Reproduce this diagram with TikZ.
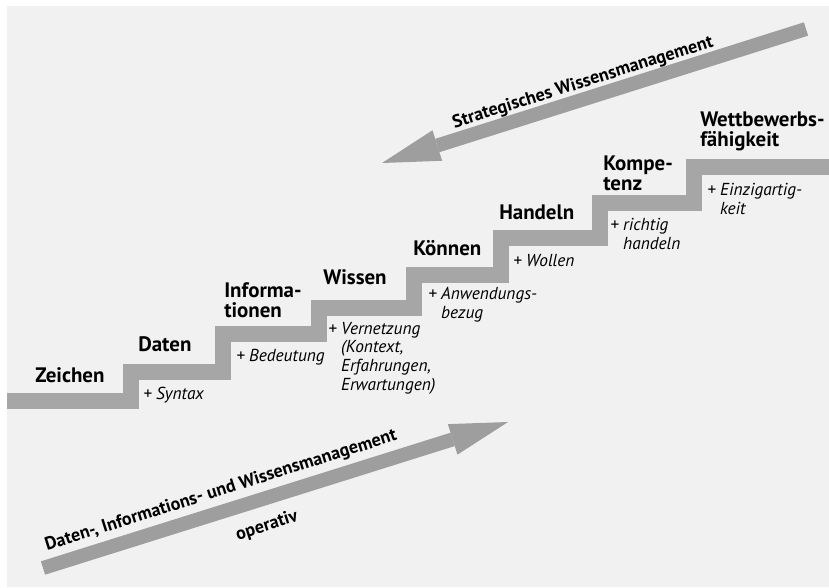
\documentclass[tikz,border=0pt]{standalone}
\usepackage{fontspec}
\setmainfont{PT Sans}
\usetikzlibrary{arrows.meta}

\definecolor{panelgray}{HTML}{F1F1F1}
\definecolor{stairgray}{HTML}{A6A6A6}
\definecolor{arrowgray}{HTML}{9E9E9E}

\tikzset{
	stair/.style={draw=stairgray, line width=12pt, line join=miter, line cap=butt},
	steplabel/.style={font=\fontsize{15.7}{15}\selectfont\bfseries, inner sep=0pt, anchor=base west, align=left},
	plusnote/.style={font=\fontsize{13}{14}\selectfont\itshape, inner sep=0pt, anchor=base west, align=left},
	bigarrow/.style={draw=arrowgray, line width=10.5pt, -{Triangle[length=43.5pt 0, width=24pt 0, line width=0pt 0]}},
	arrowtext/.style={font=\fontsize{13.6}{13.6}\selectfont\bfseries, inner sep=0pt, rotate=17.5},
}

\begin{document}
\begin{tikzpicture}[x=0.75pt,y=-0.75pt]
		
		\useasboundingbox (0,0) rectangle (829,587);
		\fill[white] (0,0) rectangle (829,587);
		\fill[panelgray] (7,6) rectangle (829,587);
		
		%%% stairs
		\draw[stair] (7,401) -- (131,401) -- (131,372) -- (223,372) -- (223,334) -- (319,334)
			-- (319,308) -- (414,308) -- (414,275) -- (501,275) -- (501,238) -- (600,238)
			-- (600,203) -- (694,203) -- (694,167) -- (829,167);
		
		%%% step names (base = last line)
		\node[steplabel] (zeichen) at (35,382) {Zeichen};
		\node[steplabel] (daten) at (138,351) {Daten};
		\node[steplabel] (info) at (224,317) {Informa-\\tionen};
		\node[steplabel] (wissen) at (323,284) {Wissen};
		\node[steplabel] (koennen) at (413,255) {Können};
		\node[steplabel] (handeln) at (499,219) {Handeln};
		\node[steplabel] (kompetenz) at (603,190) {Kompe-\\tenz};
		\node[steplabel] (wettbewerb) at (700,146) {Wettbewerbs-\\fähigkeit};
		
		%%% what each step adds
		\node[plusnote] (syntax) at (143,399) {+ Syntax};
		\node[plusnote] (bedeutung) at (236,361) {+ Bedeutung};
		\node[plusnote] (vernetzung) at (328,390) {+ Vernetzung\\\phantom{+ }(Kontext,\\\phantom{+ }Erfahrungen,\\\phantom{+ }Erwartungen)};
		\node[plusnote] (anwendung) at (428,318) {+ Anwendungs-\\\phantom{+ }bezug};
		\node[plusnote] (wollen) at (513,266) {+ Wollen};
		\node[plusnote] (richtig) at (610,249) {+ richtig\\\phantom{+ }handeln};
		\node[plusnote] (einzig) at (707,214) {+ Einzigartig-\\\phantom{+ }keit};
		
		%%% strategic arrow, top
		\coordinate (stratTail) at (806,29);
		\coordinate (stratTip) at (382,163);
		\draw[bigarrow] (stratTail) -- (stratTip);
		\node[arrowtext] (strat) at (583,83) {Strategisches Wissensmanagement};
		
		%%% operative arrow, bottom
		\coordinate (operTail) at (43,568);
		\coordinate (operTip) at (508,422);
		\draw[bigarrow] (operTail) -- (operTip);
		\node[arrowtext] (oper) at (221,491) {Daten-, Informations- und Wissensmanagement};
		\node[arrowtext] (operativ) at (267,526) {operativ};
		
	\end{tikzpicture}
\end{document}
